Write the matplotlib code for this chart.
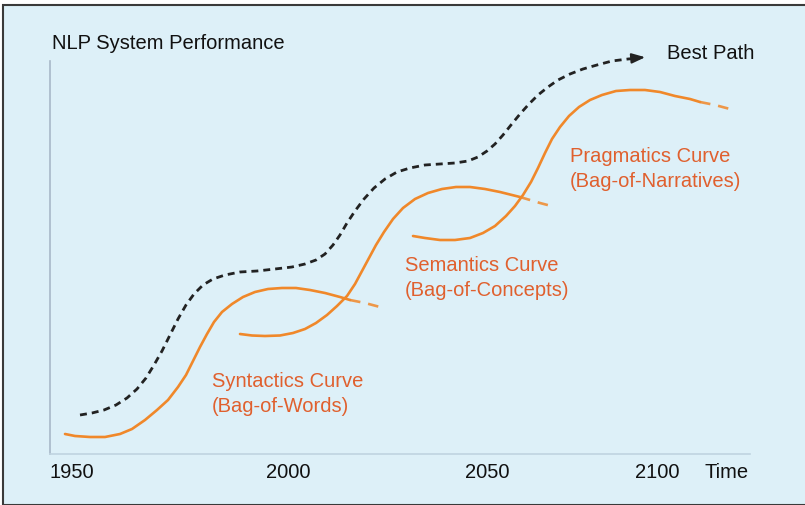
import matplotlib.pyplot as plt
from matplotlib.patches import Rectangle

plt.rcParams["font.family"] = ["Liberation Sans", "DejaVu Sans"]

# curve points (x = time progress, y = performance)
syn_x = [15, 25, 40, 55, 70, 82, 95, 107, 118, 128, 136, 143, 150, 157, 164, 172, 182, 193, 205,
         218, 232, 246, 260, 275, 290, 300]
syn_y = [20, 18, 17, 17, 20, 25, 34, 44, 54, 67, 79, 93, 107, 120, 132, 142, 150, 157, 162,
         165, 166, 166, 164, 161, 157, 154]
syn_tail_x = [300, 315, 330]
syn_tail_y = [154, 151, 147]

sem_x = [190, 202, 215, 230, 243, 255, 266, 277, 287, 297, 305, 312, 319, 326, 334, 343, 353,
         365, 378, 392, 406, 420, 435, 450, 470]
sem_y = [120, 118.5, 118, 118.5, 121, 125, 131, 139, 148, 158, 170, 183, 196, 209, 222, 235, 246,
         255, 261, 265, 267, 267, 265, 262, 257]
sem_tail_x = [470, 490, 505]
sem_tail_y = [257, 251, 247]

prag_x = [363, 375, 390, 405, 420, 433, 445, 456, 465, 473, 481, 488, 495, 502, 510, 519, 529,
          540, 552, 566, 580, 595, 610, 625, 640, 650]
prag_y = [218, 216, 214, 214, 216, 221, 228, 238, 248, 259, 272, 286, 301, 315, 327, 338, 347,
          354, 359, 363, 364, 364, 362, 358, 355, 352]
prag_tail_x = [650, 665, 680]
prag_tail_y = [352, 349, 345]

best_x = [30, 42, 54, 66, 77, 87, 96, 104, 112, 120, 128, 136, 144, 153, 163, 175, 190, 207, 225,
          242, 255, 266, 275, 283, 290, 297, 305, 314, 324, 335, 347, 360, 375, 390, 405, 418, 428,
          437, 445, 453, 461, 470, 479, 488, 498, 508, 520, 533, 547, 562, 578, 590]
best_y = [39, 41, 44, 49, 56, 65, 76, 89, 103, 119, 135, 149, 160, 169, 175, 179, 182, 183, 185,
          187, 190, 194, 200, 209, 219, 231, 243, 255, 266, 275, 282, 286, 289, 290, 291, 293, 297,
          303, 310, 319, 329, 340, 350, 359, 367, 374, 380, 385, 389, 393, 395, 396]

tick_pos = [22, 238, 437, 607]
tick_labels = ["1950", "2000", "2050", "2100"]

orange = "#f0882a"
label_col = "#e0602e"
bg = "#ddf0f8"

fig = plt.figure(figsize=(8.05, 5.06), dpi=100)
fig.patch.set_facecolor("white")
fig.patches.append(Rectangle((3 / 805, 0), 1, 500 / 506, transform=fig.transFigure,
                             facecolor=bg, edgecolor="#3a3a3a", linewidth=1.5, zorder=-1))
ax = fig.add_axes([0, 0, 1, 1])
ax.set_xlim(-50, 755)
ax.set_ylim(-51, 455)
ax.axis("off")

# axes lines
ax.plot([0, 0], [0, 393], color="#a8b8c8", lw=1.2)
ax.plot([0, 700], [0, 0], color="#c0d4e0", lw=1.2)

# curves
for xs, ys, tx, ty in [(syn_x, syn_y, syn_tail_x, syn_tail_y),
                       (sem_x, sem_y, sem_tail_x, sem_tail_y),
                       (prag_x, prag_y, prag_tail_x, prag_tail_y)]:
    ax.plot(xs, ys, color=orange, lw=1.9, solid_capstyle="round", solid_joinstyle="round")
    ax.plot(tx, ty, color=orange, lw=1.9, dashes=(4, 3), alpha=0.85)

ax.plot(best_x, best_y, color="#222222", lw=2.0, dashes=(2.5, 1.8))
ax.annotate("", xy=(598, 397), xytext=(586, 396),
            arrowprops=dict(arrowstyle="-|>,head_length=0.8,head_width=0.3",
                            color="#222222", lw=1.5))

# text
fs = 14.5
ax.text(2, 412, "NLP System Performance", fontsize=fs, color="#111111", va="center", ha="left")
ax.text(617, 402, "Best Path", fontsize=fs, color="#111111", va="center", ha="left")
for p, lab in zip(tick_pos, tick_labels):
    ax.text(p, -18, lab, fontsize=fs, color="#111111", ha="center", va="center")
ax.text(677, -18, "Time", fontsize=fs, color="#111111", ha="center", va="center")

ax.text(162, 61, "Syntactics Curve\n(Bag-of-Words)", fontsize=fs, color=label_col,
        ha="left", va="center", linespacing=1.4)
ax.text(355, 177, "Semantics Curve\n(Bag-of-Concepts)", fontsize=fs, color=label_col,
        ha="left", va="center", linespacing=1.4)
ax.text(520, 286, "Pragmatics Curve\n(Bag-of-Narratives)", fontsize=fs, color=label_col,
        ha="left", va="center", linespacing=1.4)

fig.savefig("out.png", dpi=100, facecolor=fig.get_facecolor())
